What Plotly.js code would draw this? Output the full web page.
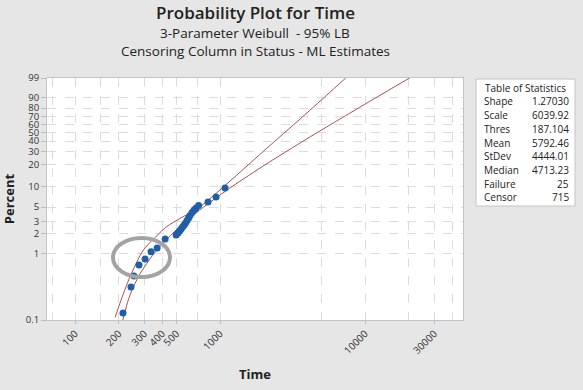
<!DOCTYPE html>
<html>
<head>
<meta charset="utf-8">
<script src="https://cdn.plot.ly/plotly-3.0.1.min.js"></script>
<style>html,body{margin:0;padding:0;background:#e6e6e6;}#chart{width:583px;height:390px;}</style>
</head>
<body>
<div id="chart"></div>
<script>
// ---- Data ----
var failTime = [214, 243, 255, 276, 304, 334, 368, 418,
  498, 513, 526, 538, 551, 565, 578, 592, 607, 621, 641, 662, 683, 711,
  826, 938, 1082];
var failPct = [0.128, 0.316, 0.463, 0.68, 0.835, 1.07, 1.22, 1.67,
  1.92, 2.05, 2.20, 2.36, 2.52, 2.70, 2.90, 3.16, 3.44, 3.74, 4.15, 4.52, 4.83, 5.27,
  5.93, 7.02, 9.47];

var fitTime = [213.4, 232.5, 249.6, 280.5, 348.7, 467, 573.7, 770, 1214, 2042, 2869, 3746, 4713, 6227, 7177, 8972, 11834, 14513, 20284];
var fitPct  = [0.1, 0.2, 0.3, 0.5, 1, 2, 3, 5, 10, 20, 30, 40, 50, 63.2, 70, 80, 90, 95, 99];

var lbTime = [189, 204, 239, 296, 428, 728, 1229, 2099, 3565, 5445, 7362];
var lbPct  = [0.11, 0.18, 0.45, 1.14, 2.55, 5.06, 13.0, 32.8, 66.8, 92.1, 99];

var yTickPct  = [0.1, 1, 2, 3, 5, 10, 20, 30, 40, 50, 60, 70, 80, 90, 99];
var yTickText = ['0.1','1','2','3','5','10','20','30','40','50','60','70','80','90','99'];
var xTickVals = [100, 200, 300, 400, 500, 1000, 10000, 30000];
var xTickText = ['100','200','300','400','500','1000','10000','30000'];
var xGridVals = [70, 150, 700, 5000, 20000, 40000];

var statNames  = ['Shape','Scale','Thres','Mean','StDev','Median','Failure','Censor'];
var statValues = ['1.27030','6039.92','187.104','5792.46','4444.01','4713.23','25','715'];

// Weibull probability scale
function wb(p){ return Math.log(-Math.log(1 - p/100)); }

var font = '"Open Sans", "Noto Sans", sans-serif';
var lineColor = '#a4524e';

var traces = [
  {x: fitTime, y: fitPct.map(wb), mode: 'lines', line: {color: lineColor, width: 1, shape: 'spline', smoothing: 0.6}, hoverinfo: 'skip'},
  {x: lbTime, y: lbPct.map(wb), mode: 'lines', line: {color: lineColor, width: 1, shape: 'spline', smoothing: 0.6}, hoverinfo: 'skip'},
  {x: failTime, y: failPct.map(wb), mode: 'markers', marker: {color: '#1f5ea8', size: 7}}
];

// plot area in pixels: x 47..463, y 78..320
function py(p){ return (320 - p) / 242; }
function px(p){ return (p - 47) / 416; }

var annotations = [
  {text: 'Probability Plot for Time', x: 0.5, xref: 'paper', y: py(13), yref: 'paper', showarrow: false, font: {size: 17, color: '#222', family: font, weight: 600}, xanchor: 'center', yanchor: 'middle'},
  {text: '3-Parameter Weibull  - 95% LB', x: 0.5, xref: 'paper', y: py(33), yref: 'paper', showarrow: false, font: {size: 13.5, color: '#222', family: font, weight: 500}, xanchor: 'center', yanchor: 'middle'},
  {text: 'Censoring Column in Status - ML Estimates', x: 0.5, xref: 'paper', y: py(51), yref: 'paper', showarrow: false, font: {size: 13.5, color: '#222', family: font, weight: 500}, xanchor: 'center', yanchor: 'middle'},
  {text: 'Table of Statistics', x: px(525), xref: 'paper', y: py(88), yref: 'paper', showarrow: false, font: {size: 10, color: '#222', family: font}, xanchor: 'center', yanchor: 'middle'}
];
for (var i = 0; i < statNames.length; i++) {
  var yy = py(101.5 + i * 13.7);
  annotations.push({text: statNames[i], x: px(482), xref: 'paper', y: yy, yref: 'paper', showarrow: false, font: {size: 10, color: '#222', family: font}, xanchor: 'left', yanchor: 'middle'});
  annotations.push({text: statValues[i], x: px(571), xref: 'paper', y: yy, yref: 'paper', showarrow: false, font: {size: 10, color: '#222', family: font}, xanchor: 'right', yanchor: 'middle'});
}

var shapes = [
  {type: 'rect', xref: 'paper', yref: 'paper', x0: px(476), x1: px(575), y0: py(206), y1: py(79), line: {color: '#c4c4c4', width: 1}, fillcolor: 'white', layer: 'below'},
  {type: 'circle', xref: 'paper', yref: 'paper', x0: px(113), x1: px(170), y0: py(277), y1: py(238), line: {color: '#a3a3a3', width: 4}}
];

var layout = {
  width: 583, height: 390,
  margin: {l: 47, r: 120, t: 78, b: 70},
  paper_bgcolor: '#e6e6e6',
  plot_bgcolor: '#ffffff',
  showlegend: false,
  font: {family: font, color: '#333'},
  xaxis: {
    type: 'log', range: [Math.log10(64), Math.log10(47400)],
    tickmode: 'array', tickvals: xTickVals, ticktext: xTickText, tickangle: -45,
    tickfont: {size: 10, color: '#333'}, ticks: 'outside', ticklen: 3, tickcolor: '#bbb',
    showgrid: true, gridcolor: '#dcdcdc', griddash: 'dash', gridwidth: 1,
    minor: {tickmode: 'array', tickvals: xGridVals, showgrid: true, gridcolor: '#dcdcdc', griddash: 'dash', ticks: ''},
    showline: true, mirror: true, linecolor: '#c4c4c4', linewidth: 1, zeroline: false,
    title: {text: 'Time', font: {size: 13, color: '#222', family: font, weight: 700}, standoff: 14}
  },
  yaxis: {
    range: [wb(0.1), wb(99)],
    tickmode: 'array', tickvals: yTickPct.map(wb), ticktext: yTickText,
    tickfont: {size: 9.5, color: '#333'}, ticks: 'outside', ticklen: 5, tickcolor: '#bbb',
    showgrid: true, gridcolor: '#dcdcdc', griddash: 'dash', gridwidth: 1,
    showline: true, mirror: true, linecolor: '#c4c4c4', linewidth: 1, zeroline: false,
    title: {text: 'Percent', font: {size: 13, color: '#222', family: font, weight: 700}, standoff: 8}
  },
  annotations: annotations,
  shapes: shapes
};

Plotly.newPlot('chart', traces, layout, {displayModeBar: false, staticPlot: true});
</script>
</body>
</html>
